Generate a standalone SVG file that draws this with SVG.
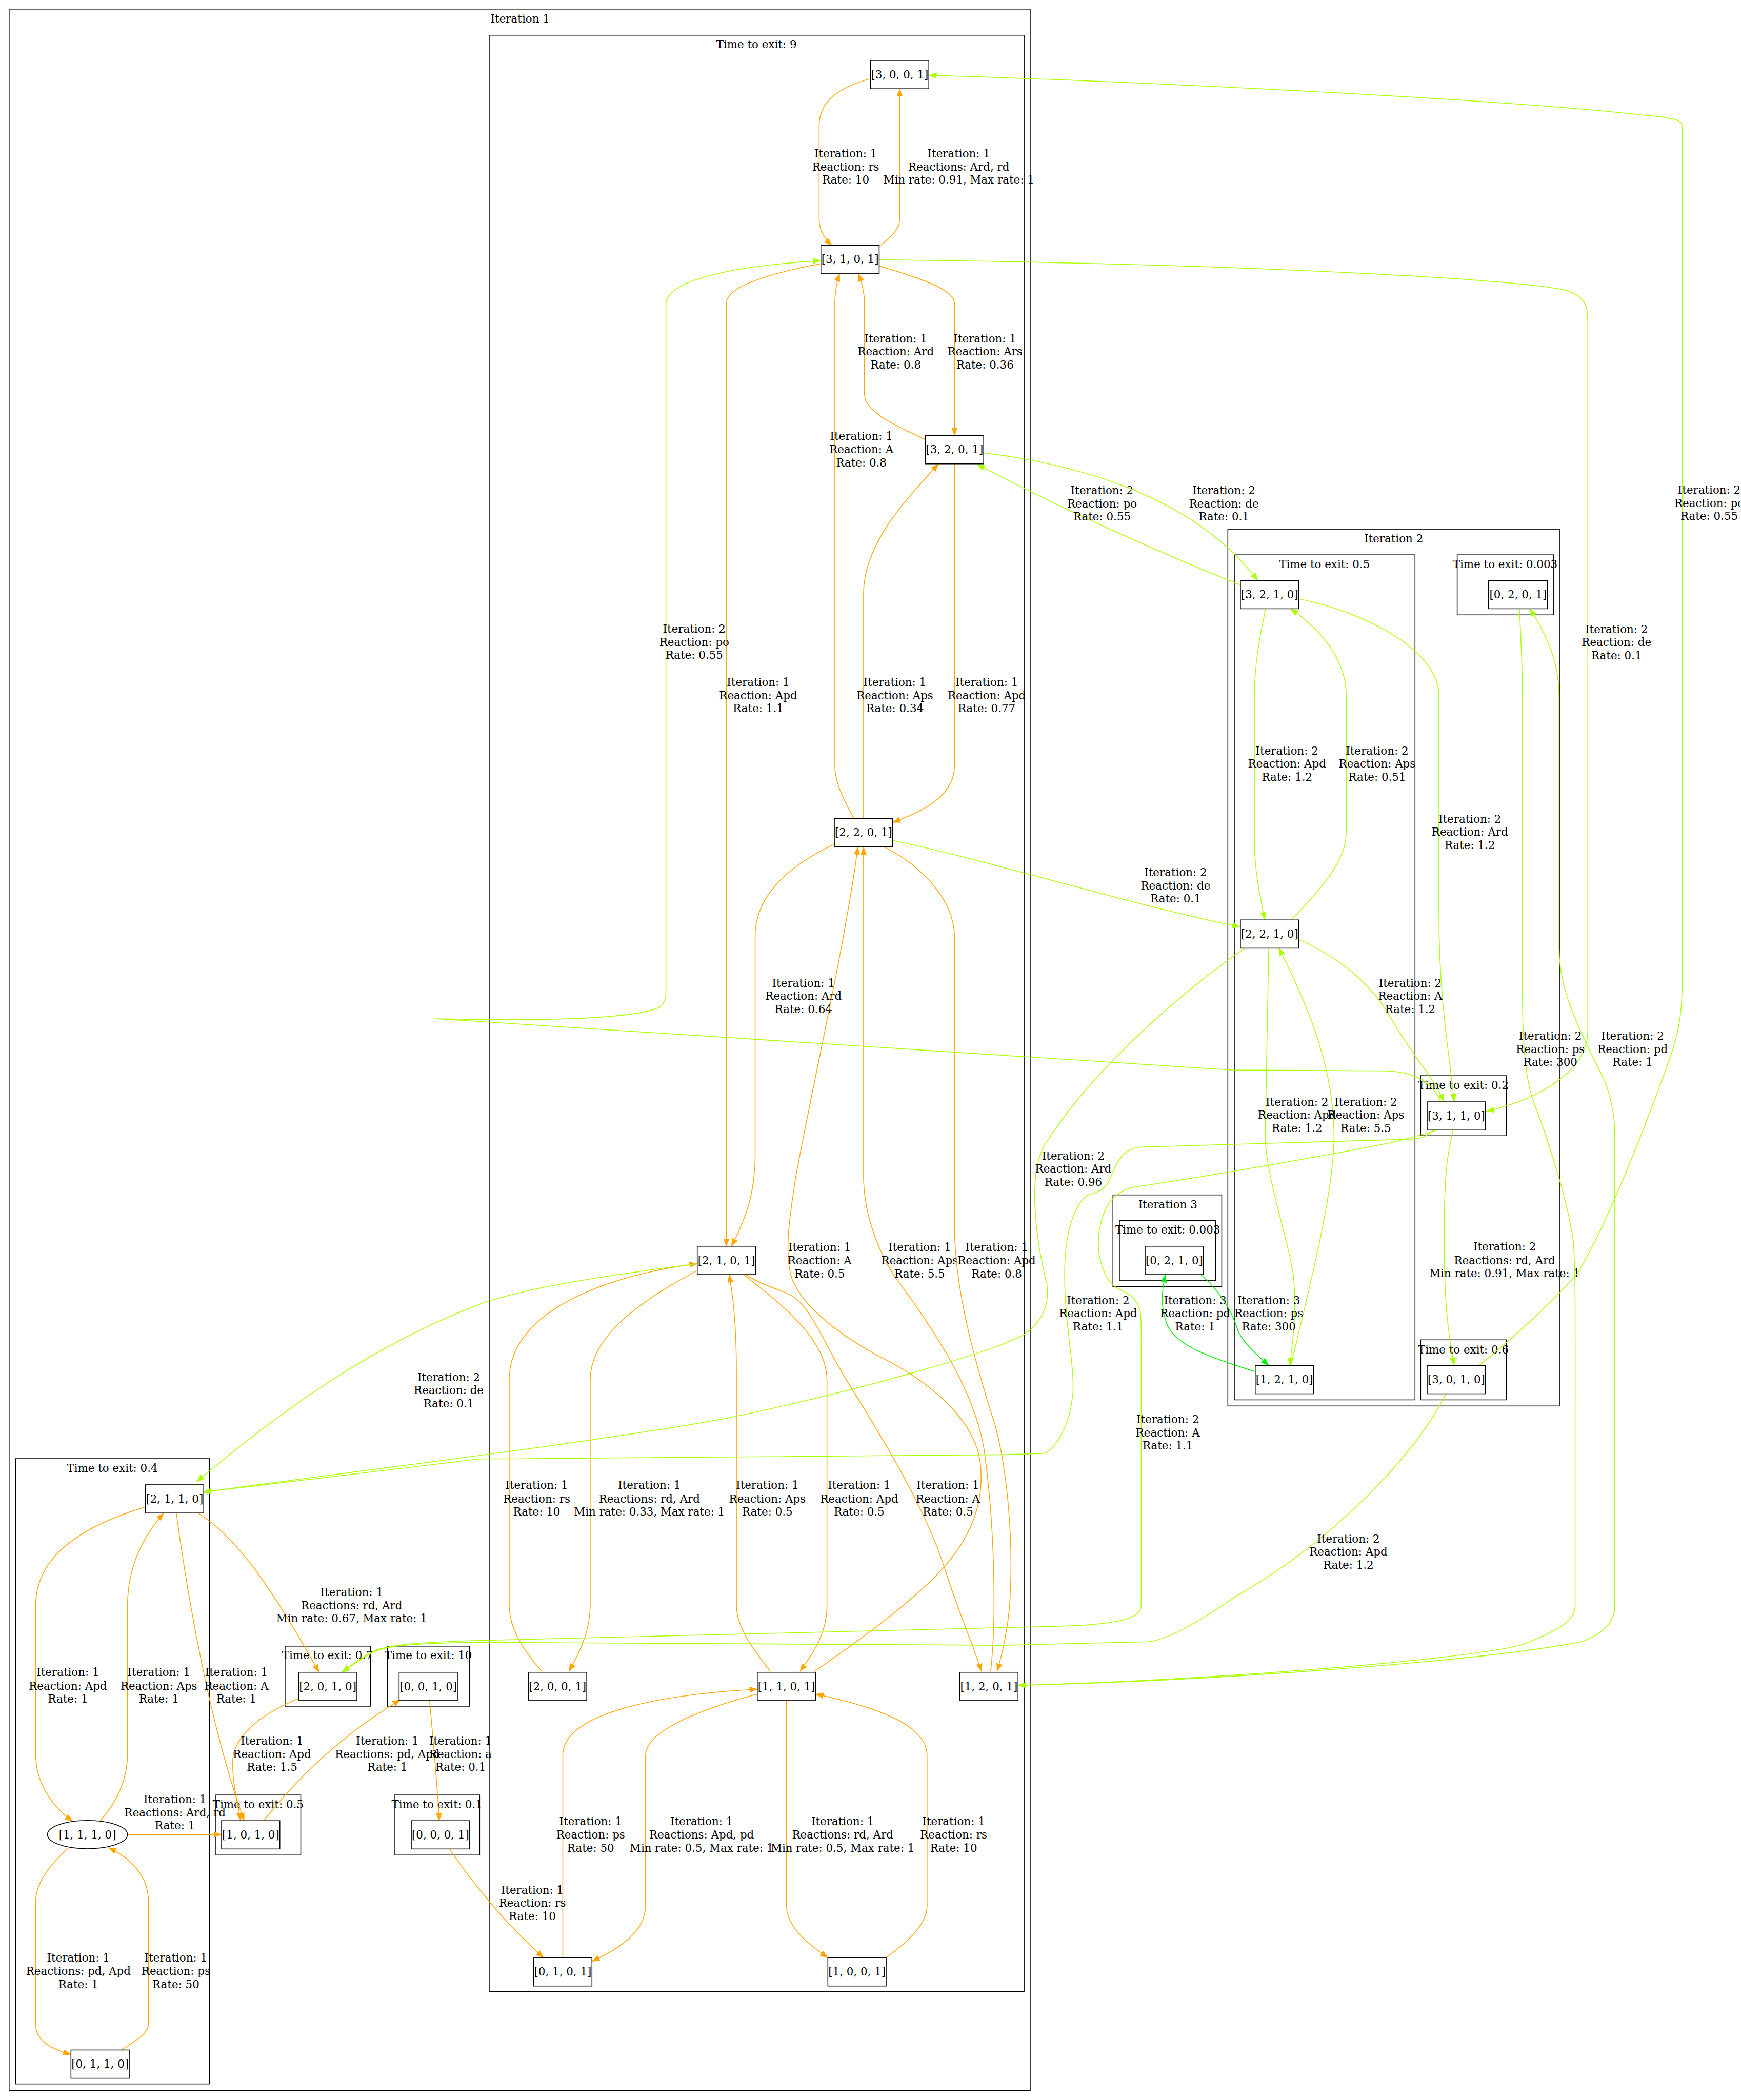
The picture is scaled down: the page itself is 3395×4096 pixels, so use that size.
<svg xmlns="http://www.w3.org/2000/svg" width="3395" height="4096" viewBox="0 0 3395 4096">
<style>
.t{font-family:"DejaVu Serif","Liberation Serif",serif;font-size:25.2px;text-anchor:middle;fill:#000}
.c{fill:none;stroke:#000;stroke-width:1.8}
.nb{fill:none;stroke:#000;stroke-width:1.8}
.o{fill:none;stroke:#ffa500;stroke-width:1.8;marker-end:url(#mo)}
.g{fill:none;stroke:#aaff00;stroke-width:1.8;marker-end:url(#mg)}
.l{fill:none;stroke:#00ee00;stroke-width:1.8;marker-end:url(#ml)}
</style>
<defs>
<marker id="mo" viewBox="0 0 19 14" refX="18" refY="7" markerWidth="19" markerHeight="14" markerUnits="userSpaceOnUse" orient="auto"><path d="M0,0L19,7L0,14z" fill="#ffa500"/></marker>
<marker id="mg" viewBox="0 0 19 14" refX="18" refY="7" markerWidth="19" markerHeight="14" markerUnits="userSpaceOnUse" orient="auto"><path d="M0,0L19,7L0,14z" fill="#aaff00"/></marker>
<marker id="ml" viewBox="0 0 19 14" refX="18" refY="7" markerWidth="19" markerHeight="14" markerUnits="userSpaceOnUse" orient="auto"><path d="M0,0L19,7L0,14z" fill="#00ee00"/></marker>
</defs>
<rect width="3395" height="4096" fill="#fff"/>
<g transform="scale(0.84875)">
<g id="clusters">
<g id="cl_it1"><rect class="c" x="21" y="21" width="2346" height="4783"/><text class="t" x="1195" y="52">Iteration 1</text></g>
<g id="cl_t9"><rect class="c" x="1124" y="81" width="1229" height="4496"/><text class="t" x="1738" y="111">Time to exit: 9</text></g>
<g id="cl_t04"><rect class="c" x="36" y="3352" width="445" height="1437"/><text class="t" x="258" y="3383">Time to exit: 0.4</text></g>
<g id="cl_t07"><rect class="c" x="655" y="3783" width="196" height="138"/><text class="t" x="752" y="3813">Time to exit: 0.7</text></g>
<g id="cl_t10"><rect class="c" x="890" y="3783" width="189" height="138"/><text class="t" x="984" y="3813">Time to exit: 10</text></g>
<g id="cl_t05b"><rect class="c" x="496" y="4125" width="195" height="138"/><text class="t" x="593" y="4156">Time to exit: 0.5</text></g>
<g id="cl_t01"><rect class="c" x="906" y="4125" width="196" height="138"/><text class="t" x="1004" y="4156">Time to exit: 0.1</text></g>
<g id="cl_it2"><rect class="c" x="2821" y="1216" width="762" height="2015"/><text class="t" x="3202" y="1247">Iteration 2</text></g>
<g id="cl_t05"><rect class="c" x="2836" y="1275" width="415" height="1942"/><text class="t" x="3043" y="1306">Time to exit: 0.5</text></g>
<g id="cl_t0003a"><rect class="c" x="3348" y="1275" width="221" height="138"/><text class="t" x="3458" y="1306">Time to exit: 0.003</text></g>
<g id="cl_t02"><rect class="c" x="3264" y="2472" width="197" height="138"/><text class="t" x="3362" y="2503">Time to exit: 0.2</text></g>
<g id="cl_t06"><rect class="c" x="3264" y="3079" width="197" height="138"/><text class="t" x="3362" y="3110">Time to exit: 0.6</text></g>
<g id="cl_it3"><rect class="c" x="2557" y="2746" width="250" height="211"/><text class="t" x="2683" y="2777">Iteration 3</text></g>
<g id="cl_t0003b"><rect class="c" x="2572" y="2805" width="221" height="138"/><text class="t" x="2683" y="2835">Time to exit: 0.003</text></g>
</g>
<g id="connectors">
<g id="e1"><path class="o" d="M2000,181 C1930,200 1882,230 1882,290 L1882,504 C1882,530 1895,548 1911,564"/><text class="t"><tspan x="1943" y="362">Iteration: 1</tspan><tspan x="1943" y="392">Reaction: rs</tspan><tspan x="1943" y="422">Rate: 10</tspan></text></g>
<g id="e2"><path class="o" d="M2019,566 C2050,545 2067,525 2067,504 L2067,204"/><text class="t"><tspan x="2203" y="362">Iteration: 1</tspan><tspan x="2203" y="392">Reactions: Ard, rd</tspan><tspan x="2203" y="422">Min rate: 0.91, Max rate: 1</tspan></text></g>
<g id="e3"><path class="o" d="M2019,611 C2110,638 2193,665 2193,697 L2193,1001"/><text class="t"><tspan x="2263" y="787">Iteration: 1</tspan><tspan x="2263" y="817">Reaction: Ars</tspan><tspan x="2263" y="847">Rate: 0.36</tspan></text></g>
<g id="e4"><path class="o" d="M2126,1010 C2050,975 1986,945 1986,905 L1986,697 C1986,670 1980,650 1972,629"/><text class="t"><tspan x="2058" y="787">Iteration: 1</tspan><tspan x="2058" y="817">Reaction: Ard</tspan><tspan x="2058" y="847">Rate: 0.8</tspan></text></g>
<g id="e5"><path class="o" d="M1961,1880 C1940,1840 1918,1800 1918,1759 L1918,697 C1918,670 1922,650 1929,629"/><text class="t"><tspan x="1979" y="1011">Iteration: 1</tspan><tspan x="1979" y="1041">Reaction: A</tspan><tspan x="1979" y="1072">Rate: 0.8</tspan></text></g>
<g id="e6"><path class="o" d="M1886,606 C1760,630 1669,660 1669,697 L1669,2864"/><text class="t"><tspan x="1742" y="1577">Iteration: 1</tspan><tspan x="1742" y="1607">Reaction: Apd</tspan><tspan x="1742" y="1637">Rate: 1.1</tspan></text></g>
<g id="e7"><path class="o" d="M1984,1880 L1984,1364 C1984,1250 2080,1150 2156,1066"/><text class="t"><tspan x="2056" y="1577">Iteration: 1</tspan><tspan x="2056" y="1607">Reaction: Aps</tspan><tspan x="2056" y="1637">Rate: 0.34</tspan></text></g>
<g id="e8"><path class="o" d="M2193,1066 L2193,1759 C2193,1830 2120,1865 2051,1890"/><text class="t"><tspan x="2267" y="1577">Iteration: 1</tspan><tspan x="2267" y="1607">Reaction: Apd</tspan><tspan x="2267" y="1637">Rate: 0.77</tspan></text></g>
<g id="e9"><path class="o" d="M1917,1940 C1810,1990 1735,2060 1735,2150 L1735,2650 C1735,2740 1715,2800 1680,2864"/><text class="t"><tspan x="1846" y="2268">Iteration: 1</tspan><tspan x="1846" y="2298">Reaction: Ard</tspan><tspan x="1846" y="2328">Rate: 0.64</tspan></text></g>
<g id="e10"><path class="o" d="M1871,3841 C1960,3780 2100,3680 2170,3600 C2240,3520 2262,3440 2252,3360 C2240,3270 2150,3180 2012,3113 C1900,3050 1840,2990 1820,2940 C1800,2880 1815,2790 1829,2700 C1870,2480 1945,2150 1971,1946"/><text class="t"><tspan x="1883" y="2875">Iteration: 1</tspan><tspan x="1883" y="2905">Reaction: A</tspan><tspan x="1883" y="2936">Rate: 0.5</tspan></text></g>
<g id="e11"><path class="o" d="M2276,3841 C2290,3720 2285,3500 2261,3331 C2240,3200 2150,3060 2053,2930 C2010,2860 1984,2780 1984,2700 L1984,1946"/><text class="t"><tspan x="2113" y="2875">Iteration: 1</tspan><tspan x="2113" y="2905">Reaction: Aps</tspan><tspan x="2113" y="2936">Rate: 5.5</tspan></text></g>
<g id="e12"><path class="o" d="M2030,1946 C2120,1990 2193,2070 2193,2154 L2193,2815 C2193,2950 2230,3100 2286,3274 C2315,3380 2330,3550 2319,3697 C2313,3760 2300,3810 2291,3841"/><text class="t"><tspan x="2290" y="2875">Iteration: 1</tspan><tspan x="2290" y="2905">Reaction: Apd</tspan><tspan x="2290" y="2936">Rate: 0.8</tspan></text></g>
<g id="e13"><path class="o" d="M1245,3841 C1200,3790 1170,3740 1170,3689 L1170,3171 C1170,3010 1400,2930 1602,2904"/><text class="t"><tspan x="1233" y="3422">Iteration: 1</tspan><tspan x="1233" y="3453">Reaction: rs</tspan><tspan x="1233" y="3483">Rate: 10</tspan></text></g>
<g id="e14"><path class="o" d="M1600,2921 C1450,3000 1356,3080 1356,3171 L1356,3689 C1356,3750 1330,3800 1307,3841"/><text class="t"><tspan x="1492" y="3422">Iteration: 1</tspan><tspan x="1492" y="3453">Reactions: rd, Ard</tspan><tspan x="1492" y="3483">Min rate: 0.33, Max rate: 1</tspan></text></g>
<g id="e15"><path class="o" d="M1770,3841 C1730,3790 1692,3740 1692,3689 L1692,3159 C1692,3050 1685,2980 1675,2929"/><text class="t"><tspan x="1763" y="3422">Iteration: 1</tspan><tspan x="1763" y="3453">Reaction: Aps</tspan><tspan x="1763" y="3483">Rate: 0.5</tspan></text></g>
<g id="e16"><path class="o" d="M1708,2929 C1800,3000 1900,3080 1900,3171 L1900,3689 C1900,3760 1860,3810 1838,3841"/><text class="t"><tspan x="1974" y="3422">Iteration: 1</tspan><tspan x="1974" y="3453">Reaction: Apd</tspan><tspan x="1974" y="3483">Rate: 0.5</tspan></text></g>
<g id="e17"><path class="o" d="M1713,2929 C1760,2960 1800,2962 1830,2985 C1870,3020 1900,3100 1950,3180 C2050,3340 2130,3480 2169,3600 C2200,3700 2240,3790 2255,3841"/><text class="t"><tspan x="2178" y="3422">Iteration: 1</tspan><tspan x="2178" y="3453">Reaction: A</tspan><tspan x="2178" y="3483">Rate: 0.5</tspan></text></g>
<g id="e18"><path class="o" d="M1293,4499 L1293,4034 C1293,3940 1500,3895 1740,3882"/><text class="t"><tspan x="1357" y="4194">Iteration: 1</tspan><tspan x="1357" y="4225">Reaction: ps</tspan><tspan x="1357" y="4256">Rate: 50</tspan></text></g>
<g id="e19"><path class="o" d="M1740,3893 C1600,3930 1483,3980 1483,4034 L1483,4379 C1483,4440 1420,4480 1360,4507"/><text class="t"><tspan x="1612" y="4194">Iteration: 1</tspan><tspan x="1612" y="4225">Reactions: Apd, pd</tspan><tspan x="1612" y="4256">Min rate: 0.5, Max rate: 1</tspan></text></g>
<g id="e20"><path class="o" d="M1807,3907 L1807,4379 C1807,4430 1860,4470 1902,4499"/><text class="t"><tspan x="1936" y="4194">Iteration: 1</tspan><tspan x="1936" y="4225">Reactions: rd, Ard</tspan><tspan x="1936" y="4256">Min rate: 0.5, Max rate: 1</tspan></text></g>
<g id="e21"><path class="o" d="M2035,4499 C2090,4460 2130,4420 2130,4379 L2130,4034 C2130,3960 2000,3920 1874,3893"/><text class="t"><tspan x="2191" y="4194">Iteration: 1</tspan><tspan x="2191" y="4225">Reaction: rs</tspan><tspan x="2191" y="4256">Rate: 10</tspan></text></g>
<g id="e22"><path class="o" d="M1033,4249 C1080,4320 1160,4420 1249,4499"/><text class="t"><tspan x="1223" y="4352">Iteration: 1</tspan><tspan x="1223" y="4382">Reaction: rs</tspan><tspan x="1223" y="4412">Rate: 10</tspan></text></g>
<g id="e23"><path class="o" d="M987,3908 C995,4000 1005,4100 1009,4184"/><text class="t"><tspan x="1058" y="4010">Iteration: 1</tspan><tspan x="1058" y="4040">Reaction: a</tspan><tspan x="1058" y="4070">Rate: 0.1</tspan></text></g>
<g id="e24"><path class="o" d="M605,4185 C680,4090 780,3990 920,3906"/><text class="t"><tspan x="890" y="4010">Iteration: 1</tspan><tspan x="890" y="4040">Reactions: pd, Apd</tspan><tspan x="890" y="4070">Rate: 1</tspan></text></g>
<g id="e25"><path class="o" d="M686,3903 C600,3940 550,3980 536,4032 C530,4080 545,4140 553,4184"/><text class="t"><tspan x="625" y="4010">Iteration: 1</tspan><tspan x="625" y="4040">Reaction: Apd</tspan><tspan x="625" y="4070">Rate: 1.5</tspan></text></g>
<g id="e26"><path class="o" d="M455,3477 C540,3530 620,3640 733,3843"/><text class="t"><tspan x="808" y="3668">Iteration: 1</tspan><tspan x="808" y="3698">Reactions: rd, Ard</tspan><tspan x="808" y="3728">Min rate: 0.67, Max rate: 1</tspan></text></g>
<g id="e27"><path class="o" d="M405,3477 C430,3660 480,3960 561,4184"/><text class="t"><tspan x="543" y="3852">Iteration: 1</tspan><tspan x="543" y="3883">Reaction: A</tspan><tspan x="543" y="3913">Rate: 1</tspan></text></g>
<g id="e28"><path class="o" d="M334,3463 C180,3510 82,3580 82,3689 L82,4030 C82,4100 120,4150 167,4186"/><text class="t"><tspan x="156" y="3852">Iteration: 1</tspan><tspan x="156" y="3883">Reaction: Apd</tspan><tspan x="156" y="3913">Rate: 1</tspan></text></g>
<g id="e29"><path class="o" d="M229,4186 C270,4140 293,4090 293,4030 L293,3689 C293,3600 330,3530 376,3477"/><text class="t"><tspan x="365" y="3852">Iteration: 1</tspan><tspan x="365" y="3883">Reaction: Aps</tspan><tspan x="365" y="3913">Rate: 1</tspan></text></g>
<g id="e30"><path class="o" d="M293,4216 L509,4216"/><text class="t"><tspan x="402" y="4144">Iteration: 1</tspan><tspan x="402" y="4174">Reactions: Ard, rd</tspan><tspan x="402" y="4204">Rate: 1</tspan></text></g>
<g id="e31"><path class="o" d="M158,4246 C110,4290 82,4330 82,4370 L82,4653 C82,4690 120,4710 163,4721"/><text class="t"><tspan x="180" y="4508">Iteration: 1</tspan><tspan x="180" y="4539">Reactions: pd, Apd</tspan><tspan x="180" y="4569">Rate: 1</tspan></text></g>
<g id="e32"><path class="o" d="M279,4711 C320,4685 341,4670 341,4653 L341,4370 C341,4310 300,4270 249,4246"/><text class="t"><tspan x="404" y="4508">Iteration: 1</tspan><tspan x="404" y="4539">Reaction: ps</tspan><tspan x="404" y="4569">Rate: 50</tspan></text></g>
<g id="g1"><path class="g" d="M2850,1344 C2650,1265 2400,1150 2245,1067"/><text class="t"><tspan x="2532" y="1136">Iteration: 2</tspan><tspan x="2532" y="1166">Reaction: po</tspan><tspan x="2532" y="1196">Rate: 0.55</tspan></text></g>
<g id="g2"><path class="g" d="M2260,1041 C2500,1070 2750,1150 2890,1334"/><text class="t"><tspan x="2812" y="1136">Iteration: 2</tspan><tspan x="2812" y="1166">Reaction: de</tspan><tspan x="2812" y="1196">Rate: 0.1</tspan></text></g>
<g id="g3"><path class="g" d="M2908,1399 C2890,1480 2882,1540 2882,1598 L2882,1932 C2882,2000 2895,2060 2906,2114"/><text class="t"><tspan x="2957" y="1734">Iteration: 2</tspan><tspan x="2957" y="1764">Reaction: Apd</tspan><tspan x="2957" y="1795">Rate: 1.2</tspan></text></g>
<g id="g4"><path class="g" d="M2966,2114 C3050,2030 3093,1970 3093,1913 L3093,1598 C3093,1520 3040,1450 2965,1399"/><text class="t"><tspan x="3164" y="1734">Iteration: 2</tspan><tspan x="3164" y="1764">Reaction: Aps</tspan><tspan x="3164" y="1795">Rate: 0.51</tspan></text></g>
<g id="g5"><path class="g" d="M2984,1376 C3150,1410 3306,1500 3306,1598 L3306,2100 C3306,2300 3330,2420 3341,2532"/><text class="t"><tspan x="3377" y="1891">Iteration: 2</tspan><tspan x="3377" y="1921">Reaction: Ard</tspan><tspan x="3377" y="1951">Rate: 1.2</tspan></text></g>
<g id="g6"><path class="g" d="M2051,1931 C2300,1985 2600,2080 2849,2130"/><text class="t"><tspan x="2701" y="2014">Iteration: 2</tspan><tspan x="2701" y="2044">Reaction: de</tspan><tspan x="2701" y="2074">Rate: 0.1</tspan></text></g>
<g id="g7"><path class="g" d="M2984,2159 C3100,2210 3160,2280 3190,2330 C3240,2420 3290,2470 3318,2532"/><text class="t"><tspan x="3240" y="2268">Iteration: 2</tspan><tspan x="3240" y="2298">Reaction: A</tspan><tspan x="3240" y="2328">Rate: 1.2</tspan></text></g>
<g id="g8"><path class="g" d="M2915,2178 L2907,2608 C2907,2700 2960,2850 2971,2927 C2980,3000 2970,3090 2963,3138"/><text class="t"><tspan x="2980" y="2541">Iteration: 2</tspan><tspan x="2980" y="2571">Reaction: Apd</tspan><tspan x="2980" y="2602">Rate: 1.2</tspan></text></g>
<g id="g9"><path class="g" d="M2966,3138 C3000,2990 3065,2750 3065,2608 C3065,2450 3000,2300 2938,2178"/><text class="t"><tspan x="3138" y="2541">Iteration: 2</tspan><tspan x="3138" y="2571">Reaction: Aps</tspan><tspan x="3138" y="2602">Rate: 5.5</tspan></text></g>
<g id="g10"><path class="g" d="M2861,2178 C2700,2290 2500,2470 2400,2632 C2360,2700 2380,2850 2405,2950 C2415,3010 2380,3050 2352,3067 C2300,3100 2000,3190 1680,3257 C1400,3310 900,3370 467,3429"/><text class="t"><tspan x="2466" y="2665">Iteration: 2</tspan><tspan x="2466" y="2695">Reaction: Ard</tspan><tspan x="2466" y="2725">Rate: 0.96</tspan></text></g>
<g id="g11"><path class="g" d="M3339,2596 C3325,2650 3318,2700 3318,2847 C3318,3007 3330,3080 3341,3138"/><text class="t"><tspan x="3457" y="2874">Iteration: 2</tspan><tspan x="3457" y="2905">Reactions: rd, Ard</tspan><tspan x="3457" y="2935">Min rate: 0.91, Max rate: 1</tspan></text></g>
<g id="g12"><path class="g" d="M2019,597 C2800,605 3500,640 3600,668 C3640,680 3648,700 3648,740 L3648,2369 C3648,2450 3560,2520 3415,2554"/><text class="t"><tspan x="3714" y="1455">Iteration: 2</tspan><tspan x="3714" y="1485">Reaction: de</tspan><tspan x="3714" y="1515">Rate: 0.1</tspan></text></g>
<g id="g13"><path class="g" d="M3310,2532 C3290,2480 3240,2462 3180,2461 L2829,2459 C2400,2427 1800,2387 1000,2341 C1200,2346 1450,2345 1515,2315 C1527,2305 1530,2295 1530,2280 L1530,700 C1530,640 1700,610 1886,599"/><text class="t"><tspan x="1595" y="1454">Iteration: 2</tspan><tspan x="1595" y="1484">Reaction: po</tspan><tspan x="1595" y="1514">Rate: 0.55</tspan></text></g>
<g id="g14"><path class="g" d="M3293,2596 C3280,2612 3260,2618 3240,2618 L2620,2636 C2580,2640 2565,2670 2550,2710 C2540,2735 2515,2742 2500,2746 C2470,2765 2446,2830 2446,2927 C2446,3050 2472,3150 2464,3210 C2458,3270 2430,3325 2400,3340 L2300,3343 L1100,3353 L467,3429"/><text class="t"><tspan x="2523" y="2997">Iteration: 2</tspan><tspan x="2523" y="3027">Reaction: Apd</tspan><tspan x="2523" y="3058">Rate: 1.1</tspan></text></g>
<g id="g15"><path class="g" d="M3300,2597 C3280,2605 3250,2612 3200,2625 C3000,2665 2700,2715 2604,2728 C2575,2735 2555,2750 2542,2775 C2522,2815 2520,2865 2528,2895 C2535,2925 2548,2950 2570,2962 C2600,2975 2615,2990 2620,3015 C2623,3040 2622,3070 2622,3100 L2622,3690 C2622,3722 2560,3735 2400,3738 L1100,3770 C960,3774 885,3780 855,3796 C825,3812 805,3828 786,3843"/><text class="t"><tspan x="2683" y="3271">Iteration: 2</tspan><tspan x="2683" y="3301">Reaction: A</tspan><tspan x="2683" y="3331">Rate: 1.1</tspan></text></g>
<g id="g16"><path class="g" d="M3322,3203 C3250,3350 3050,3550 2842,3667 C2750,3730 2680,3770 2636,3773 L2300,3781 L1100,3774 C960,3776 885,3781 855,3798 C825,3814 805,3829 786,3843"/><text class="t"><tspan x="3098" y="3545">Iteration: 2</tspan><tspan x="3098" y="3575">Reaction: Apd</tspan><tspan x="3098" y="3605">Rate: 1.2</tspan></text></g>
<g id="g17"><path class="g" d="M3491,1399 C3496,1500 3498,1550 3498,1600 L3498,2289 C3498,2400 3505,2480 3522,2528 C3550,2600 3600,2750 3614,2847 C3620,2900 3619,3000 3619,3300 L3619,3690 C3619,3720 3590,3745 3493,3781 C3350,3815 2800,3860 2339,3873"/><text class="t"><tspan x="3562" y="2390">Iteration: 2</tspan><tspan x="3562" y="2420">Reaction: ps</tspan><tspan x="3562" y="2450">Rate: 300</tspan></text></g>
<g id="g18"><path class="g" d="M2339,3873 C2800,3862 3400,3818 3633,3773 C3690,3752 3710,3722 3710,3690 L3710,2608 C3710,2560 3700,2510 3680,2470 C3620,2350 3582,2270 3582,2180 L3582,1598 C3582,1520 3550,1450 3514,1399"/><text class="t"><tspan x="3751" y="2390">Iteration: 2</tspan><tspan x="3751" y="2420">Reaction: pd</tspan><tspan x="3751" y="2450">Rate: 1</tspan></text></g>
<g id="g19"><path class="g" d="M3398,3138 C3470,3080 3560,3000 3624,2927 C3700,2800 3790,2560 3830,2450 C3860,2370 3865,2320 3865,2250 L3865,290 C3865,275 3840,270 3780,265 C3500,232 2700,190 2134,173"/><text class="t"><tspan x="3927" y="1135">Iteration: 2</tspan><tspan x="3927" y="1165">Reaction: po</tspan><tspan x="3927" y="1195">Rate: 0.55</tspan></text></g>
<g id="g21"><path class="g" d="M1602,2904 C1400,2930 1200,2960 1100,2998 C900,3075 700,3195 452,3405"/><text class="t"><tspan x="1031" y="3174">Iteration: 2</tspan><tspan x="1031" y="3204">Reaction: de</tspan><tspan x="1031" y="3234">Rate: 0.1</tspan></text></g>
<g id="i3a"><path class="l" d="M2884,3152 C2780,3120 2696,3090 2680,3040 C2665,3000 2670,2960 2678,2929"/><text class="t"><tspan x="2746" y="2997">Iteration: 3</tspan><tspan x="2746" y="3027">Reaction: pd</tspan><tspan x="2746" y="3058">Rate: 1</tspan></text></g>
<g id="i3b"><path class="l" d="M2759,2929 C2800,2965 2830,3010 2845,3060 C2860,3090 2890,3115 2915,3138"/><text class="t"><tspan x="2915" y="2997">Iteration: 3</tspan><tspan x="2915" y="3027">Reaction: ps</tspan><tspan x="2915" y="3058">Rate: 300</tspan></text></g>
</g>
<g id="nodes">
<g id="n3001"><rect class="nb" x="2000" y="139" width="134" height="65"/><text class="t" x="2067" y="180">[3, 0, 0, 1]</text></g>
<g id="n3101"><rect class="nb" x="1886" y="564" width="134" height="65"/><text class="t" x="1953" y="605">[3, 1, 0, 1]</text></g>
<g id="n3201"><rect class="nb" x="2126" y="1001" width="134" height="65"/><text class="t" x="2193" y="1042">[3, 2, 0, 1]</text></g>
<g id="n2201"><rect class="nb" x="1917" y="1881" width="134" height="65"/><text class="t" x="1984" y="1922">[2, 2, 0, 1]</text></g>
<g id="n2101"><rect class="nb" x="1602" y="2864" width="134" height="65"/><text class="t" x="1669" y="2905">[2, 1, 0, 1]</text></g>
<g id="n2001"><rect class="nb" x="1214" y="3843" width="134" height="65"/><text class="t" x="1281" y="3884">[2, 0, 0, 1]</text></g>
<g id="n1101"><rect class="nb" x="1740" y="3843" width="134" height="65"/><text class="t" x="1807" y="3884">[1, 1, 0, 1]</text></g>
<g id="n1201"><rect class="nb" x="2205" y="3843" width="134" height="65"/><text class="t" x="2272" y="3884">[1, 2, 0, 1]</text></g>
<g id="n0101"><rect class="nb" x="1226" y="4499" width="134" height="65"/><text class="t" x="1293" y="4540">[0, 1, 0, 1]</text></g>
<g id="n1001"><rect class="nb" x="1902" y="4499" width="134" height="65"/><text class="t" x="1969" y="4540">[1, 0, 0, 1]</text></g>
<g id="n2110"><rect class="nb" x="334" y="3412" width="134" height="65"/><text class="t" x="401" y="3453">[2, 1, 1, 0]</text></g>
<g id="n1110"><ellipse class="nb" cx="201" cy="4216" rx="92" ry="32.5"/><text class="t" x="201" y="4225">[1, 1, 1, 0]</text></g>
<g id="n0110"><rect class="nb" x="163" y="4711" width="134" height="65"/><text class="t" x="230" y="4752">[0, 1, 1, 0]</text></g>
<g id="n2010"><rect class="nb" x="686" y="3843" width="134" height="65"/><text class="t" x="753" y="3884">[2, 0, 1, 0]</text></g>
<g id="n0010"><rect class="nb" x="917" y="3843" width="134" height="65"/><text class="t" x="984" y="3884">[0, 0, 1, 0]</text></g>
<g id="n1010"><rect class="nb" x="509" y="4184" width="134" height="65"/><text class="t" x="576" y="4225">[1, 0, 1, 0]</text></g>
<g id="n0001"><rect class="nb" x="945" y="4184" width="134" height="65"/><text class="t" x="1012" y="4225">[0, 0, 0, 1]</text></g>
<g id="n3210"><rect class="nb" x="2850" y="1334" width="134" height="65"/><text class="t" x="2917" y="1375">[3, 2, 1, 0]</text></g>
<g id="n0201"><rect class="nb" x="3420" y="1334" width="135" height="65"/><text class="t" x="3488" y="1375">[0, 2, 0, 1]</text></g>
<g id="n2210"><rect class="nb" x="2850" y="2114" width="134" height="65"/><text class="t" x="2917" y="2155">[2, 2, 1, 0]</text></g>
<g id="n3110"><rect class="nb" x="3279" y="2532" width="134" height="65"/><text class="t" x="3346" y="2573">[3, 1, 1, 0]</text></g>
<g id="n1210"><rect class="nb" x="2884" y="3138" width="134" height="65"/><text class="t" x="2951" y="3179">[1, 2, 1, 0]</text></g>
<g id="n3010"><rect class="nb" x="3279" y="3138" width="134" height="65"/><text class="t" x="3346" y="3179">[3, 0, 1, 0]</text></g>
<g id="n0210"><rect class="nb" x="2631" y="2864" width="134" height="65"/><text class="t" x="2698" y="2905">[0, 2, 1, 0]</text></g>
</g>
</g>
</svg>
